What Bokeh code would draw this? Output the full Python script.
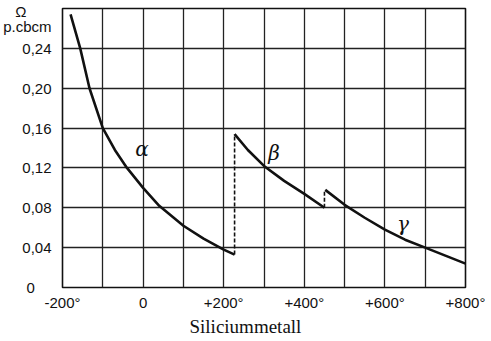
from bokeh.plotting import figure
from bokeh.models import FixedTicker, CustomJSTickFormatter, Range1d, Title
from bokeh.core.properties import value
from bokeh.embed import file_html
from bokeh.resources import INLINE

# data
alpha_t = [-180, -156, -133, -100, -70, -40, 0, 40, 100, 150, 200, 227]
alpha_r = [0.274, 0.240, 0.200, 0.160, 0.138, 0.120, 0.100, 0.082, 0.062, 0.049, 0.038, 0.033]
beta_t = [227, 260, 300, 350, 400, 450]
beta_r = [0.154, 0.138, 0.122, 0.107, 0.094, 0.080]
gamma_t = [452, 500, 550, 600, 650, 700, 750, 800]
gamma_r = [0.098, 0.083, 0.070, 0.058, 0.048, 0.040, 0.032, 0.024]
jump1_t = [227, 227]
jump1_r = [0.033, 0.154]
jump2_t = [450, 450]
jump2_r = [0.080, 0.098]

x_ticks = [-200, 0, 200, 400, 600, 800]
x_grid = [-200, -100, 0, 100, 200, 300, 400, 500, 600, 700, 800]
y_ticks = [0, 0.04, 0.08, 0.12, 0.16, 0.20, 0.24]
y_grid = [0, 0.04, 0.08, 0.12, 0.16, 0.20, 0.24, 0.28]
unit_ticks = [0.262, 0.277]   # where the unit "Ω / p.cbcm" sits on the y side

curve_labels = ["α", "β", "γ"]
curve_label_t = [-3, 325, 645]
curve_label_r = [0.139, 0.135, 0.064]

p = figure(width=485, height=336, output_backend="svg", toolbar_location=None,
           x_range=Range1d(-200, 800), y_range=Range1d(0, 0.28),
           min_border_left=59, min_border_right=20, min_border_top=8, min_border_bottom=45)
p.background_fill_color = "white"
p.border_fill_color = "white"
p.outline_line_color = "#111111"
p.outline_line_width = 1.6

for ax in (p.xaxis, p.yaxis):
    ax.axis_line_color = None
    ax.major_tick_line_color = None
    ax.minor_tick_line_color = None
    ax.major_label_text_font = "Liberation Sans"
    ax.major_label_text_font_size = "15px"
    ax.major_label_text_color = "#111111"
p.yaxis.major_label_standoff = 5
p.xaxis.major_label_standoff = 0

p.xaxis.ticker = FixedTicker(ticks=x_ticks)
p.xaxis.formatter = CustomJSTickFormatter(code="""
if (tick == 0) { return "0"; }
return (tick > 0 ? "+" : "-") + Math.abs(tick) + "\\u00b0";
""")
p.yaxis.ticker = FixedTicker(ticks=y_ticks + unit_ticks)
p.yaxis.formatter = CustomJSTickFormatter(code=r"""
if (Math.abs(tick - 0.277) < 1e-6) { return "\u03a9\u2007\u2007\u2007"; }
if (Math.abs(tick - 0.262) < 1e-6) { return "p.cbcm"; }
if (tick == 0) { return "0\u2007\u2007"; }
return tick.toFixed(2).replace(".", ",");
""")

p.xgrid.ticker = FixedTicker(ticks=x_grid)
p.ygrid.ticker = FixedTicker(ticks=y_grid)
for g in (p.xgrid, p.ygrid):
    g.grid_line_color = "#222222"
    g.grid_line_width = 1.3
    g.grid_line_alpha = 1.0

p.line(alpha_t, alpha_r, line_color="#111111", line_width=2.6)
p.line(beta_t, beta_r, line_color="#111111", line_width=2.6)
p.line(gamma_t, gamma_r, line_color="#111111", line_width=2.6)
p.line(jump1_t, jump1_r, line_color="#111111", line_width=1.6, line_dash="4 2")
p.line(jump2_t, jump2_r, line_color="#111111", line_width=1.6, line_dash="4 2")

p.text(x=curve_label_t, y=curve_label_r, text=curve_labels,
       text_font=value("DejaVu Serif"), text_font_style="italic",
       text_font_size="20px", text_color="#111111",
       text_align="center", text_baseline="middle")

xt = Title(text="Siliciummetall", align="left", offset=127, standoff=0,
           text_font="Liberation Serif", text_font_size="19px",
           text_font_style="normal", text_color="#111111")
p.add_layout(xt, "below")

open("out.html", "w").write(file_html(p, INLINE))
